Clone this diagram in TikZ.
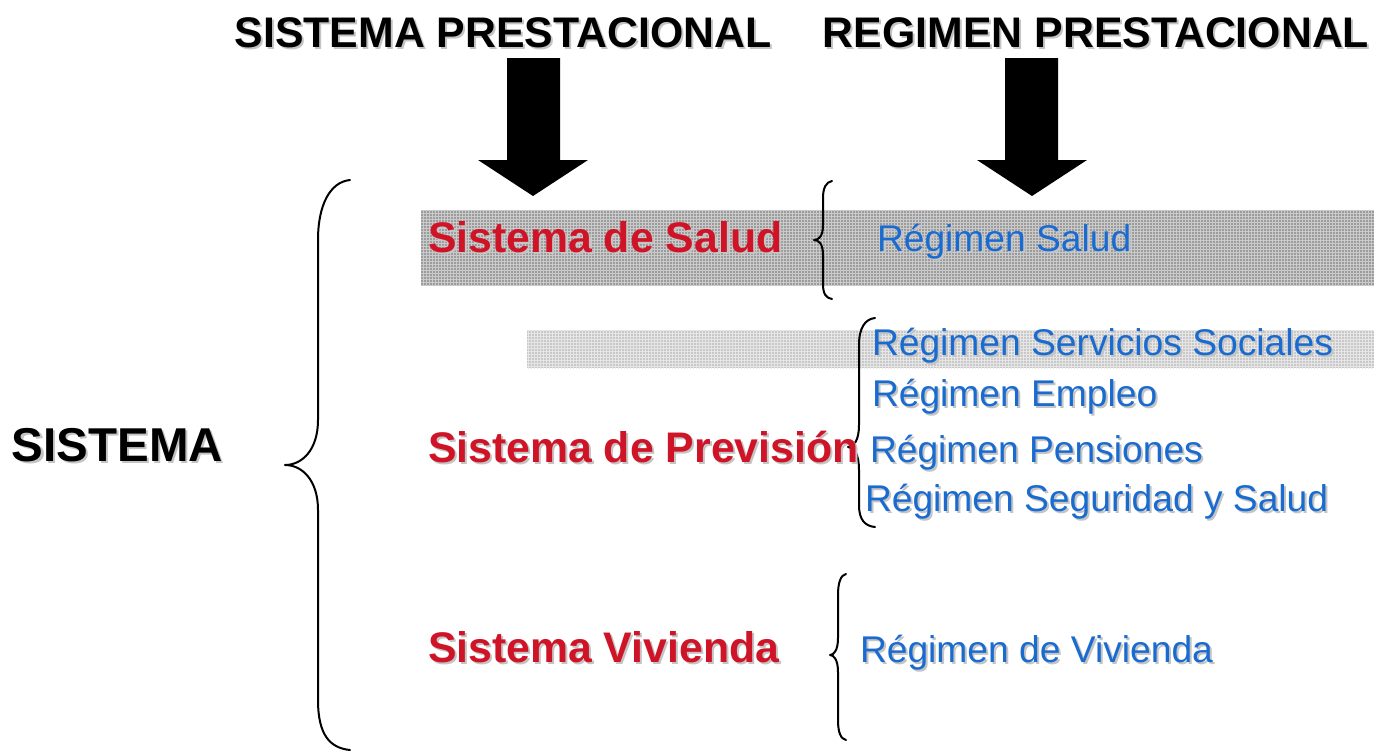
\documentclass[tikz,border=0pt]{standalone}
\usepackage{fontspec}
\setmainfont{Liberation Sans}
\usetikzlibrary{patterns}
\definecolor{sred}{HTML}{D01428}
\definecolor{sblue}{HTML}{1A6BD0}
\definecolor{shade}{HTML}{C4C4C4}
\definecolor{bandA}{HTML}{9C9C9C}
\definecolor{bandAgrid}{HTML}{CACACA}
\definecolor{bandB}{HTML}{C8C8C8}
\definecolor{bandBgrid}{HTML}{E6E6E6}
\newcommand\shtxt[5]{%
  \node[#4, text=shade] (#1-sh) at (#2+2,#3+2) {#5};
  \node[#4] (#1) at (#2,#3) {#5};}
\begin{document}
\begin{tikzpicture}[x=1pt,y=-1pt,
  every node/.style={inner sep=0pt, outer sep=0pt},
  head/.style={anchor=base, font=\fontsize{42.8}{48}\selectfont\bfseries},
  big/.style={anchor=base west, font=\fontsize{47.5}{52}\selectfont\bfseries},
  sys/.style={anchor=base west, text=sred, font=\fontsize{42.8}{48}\selectfont\bfseries},
  reg/.style={anchor=base west, text=sblue, font=\fontsize{37.2}{42}\selectfont},
  bracestyle/.style={draw=black, line width=2pt, line cap=round, line join=round},
  arrowfill/.style={fill=black}]
\useasboundingbox (0,0) rectangle (1374,753);
% bands
\fill[bandA] (421,210) rectangle (1374,285);
\fill[pattern=grid, pattern color=bandAgrid] (421,210) rectangle (1374,285);
\fill[bandB] (527,330) rectangle (1374,368);
\fill[pattern=grid, pattern color=bandBgrid] (527,330) rectangle (1374,368);
% headings
\shtxt{h1}{503}{47}{head}{SISTEMA PRESTACIONAL}
\shtxt{h2}{1096}{47}{head}{REGIMEN PRESTACIONAL}
% arrows
\fill[arrowfill] (507,58) -- (560,58) -- (560,160) -- (588,160) -- (533,196) -- (478,160) -- (507,160) -- cycle;
\fill[arrowfill] (1005,58) -- (1058,58) -- (1058,160) -- (1087,160) -- (1032,196) -- (977,160) -- (1005,160) -- cycle;
% big brace
\draw[bracestyle] (350,180) .. controls (330,182) and (318,205) .. (318,240) -- (318,420)
  .. controls (318,450) and (302,465) .. (285,465)
  .. controls (302,465) and (318,480) .. (318,510) -- (318,700)
  .. controls (318,735) and (330,748) .. (350,750);
% brace 1
\draw[bracestyle] (832,181) .. controls (826,182) and (823,188) .. (823,198) -- (823,225)
  .. controls (823,236) and (819,240) .. (814,240)
  .. controls (819,240) and (823,244) .. (823,255) -- (823,284)
  .. controls (823,294) and (826,298) .. (832,299);
% brace 2
\draw[bracestyle] (875,318) .. controls (865,319) and (859,328) .. (859,345) -- (859,425)
  .. controls (859,440) and (854,447) .. (848,447)
  .. controls (854,447) and (859,454) .. (859,470) -- (859,505)
  .. controls (859,520) and (865,526) .. (875,527);
% brace 3
\draw[bracestyle] (846,574) .. controls (841,575) and (838,582) .. (838,595) -- (838,638)
  .. controls (838,650) and (834,655) .. (830,655)
  .. controls (834,655) and (838,660) .. (838,672) -- (838,720)
  .. controls (838,733) and (841,739) .. (846,740);
% texts
\shtxt{sis}{12}{461}{big}{SISTEMA}
\shtxt{ssal}{428}{252}{sys}{Sistema de Salud}
\shtxt{sprev}{428}{462}{sys}{Sistema de Previsión}
\shtxt{sviv}{428}{662}{sys}{Sistema Vivienda}
\shtxt{rsal}{877}{251}{reg}{Régimen Salud}
\shtxt{rserv}{872}{355}{reg}{Régimen Servicios Sociales}
\shtxt{remp}{872}{406}{reg}{Régimen Empleo}
\shtxt{rpen}{870}{462}{reg}{Régimen Pensiones}
\shtxt{rseg}{865}{511}{reg}{Régimen Seguridad y Salud}
\shtxt{rviv}{860}{662}{reg}{Régimen de Vivienda}
\end{tikzpicture}
\end{document}
